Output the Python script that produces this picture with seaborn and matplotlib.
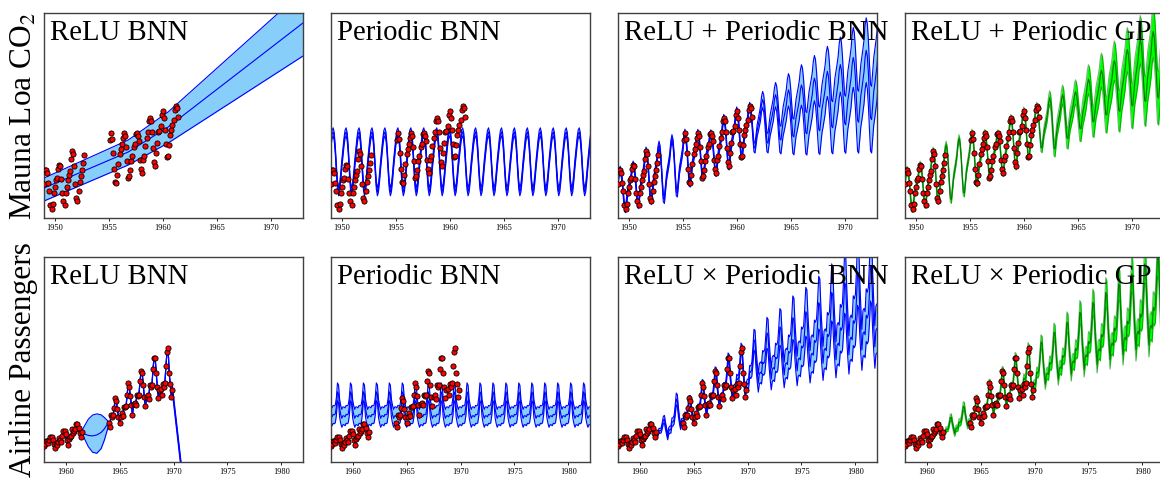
import numpy as np
import matplotlib
matplotlib.use("Agg")
import matplotlib.pyplot as plt
import seaborn as sns

sns.set_theme(style="white")
plt.rcParams["font.family"] = ["Liberation Serif", "DejaVu Serif"]
plt.rcParams["mathtext.fontset"] = "stix"
plt.rcParams["text.color"] = "black"
plt.rcParams["xtick.color"] = "black"

# ---------------------------------------------------------------- data
# Mauna Loa CO2 (ppm), monthly; first point at 1949.0 on the axis, 0.1 per month
co2_start, co2_step = 1949.0, 0.1
co2_first = [315.71, 317.45, 317.50, 317.10, 315.86, 314.93, 313.20, 312.66, 313.33, 314.67,
             315.42, 316.31, 316.50, 317.56, 318.13, 318.00, 316.39, 314.65, 313.68, 313.18, 314.66, 315.43,
             316.27, 316.81, 317.42, 318.87, 319.87, 319.43, 318.01, 315.74, 314.00, 313.68, 314.84, 316.03,
             316.73, 317.54, 318.38, 319.31]
co2_second_offset = 61          # months from the first point to the first point after the gap
co2_second = [321.22, 322.08, 321.31, 319.58, 317.61, 316.05, 315.83, 316.91, 318.20,
              319.41, 320.07, 320.74, 321.40, 322.06, 321.73, 320.27, 318.54, 316.54, 316.71, 317.53, 318.55,
              319.27, 320.28, 320.73, 321.97, 322.00, 321.71, 321.05, 318.71, 317.66, 317.14, 318.70, 319.25,
              320.46, 321.43, 322.23, 323.54, 323.91, 323.59, 322.24, 320.20, 318.48, 317.94, 319.63, 320.87,
              322.17, 322.34, 322.88, 324.25, 324.83, 323.93, 322.38, 320.76, 319.10, 319.24, 320.56, 321.80,
              322.40, 322.99, 323.73, 324.86, 325.40, 325.20, 323.98]
co2_first_month = 2             # first point is March

# Airline passengers (thousands), monthly; first point at 1958.0 on the axis, 0.1 per month
air_start, air_step = 1958.0, 0.1
air_first = [112, 118, 132, 129, 121, 135, 148, 148, 136, 119, 104, 118,
             115, 126, 141, 135, 125, 149, 170, 170, 158, 133, 114, 140,
             145, 150, 178, 163, 172, 178, 199, 199, 184, 162, 146, 166]
air_second_offset = 60
air_second = [204, 188, 235, 227, 234, 264, 302, 293, 259, 229, 203, 229,
              242, 233, 267, 269, 270, 315, 364, 347, 312, 274, 237, 278,
              284, 277, 317, 313, 318, 374, 413, 405, 355, 306, 271, 306,
              315, 301, 356, 348, 355, 422, 465, 467, 404, 347, 305, 336,
              340, 318, 362, 348, 363, 435, 491, 505, 404, 359, 310, 337]

# axes
co2_xlim, co2_ylim = (1949, 1973), (311.55, 336.9)
air_xlim, air_ylim = (1958, 1982), (44.5, 875.0)
co2_xticks = [1950, 1955, 1960, 1965, 1970]
air_xticks = [1960, 1965, 1970, 1975, 1980]

row_labels = ["Mauna Loa CO$_2$", "Airline Passengers"]
titles = [["ReLU BNN", "Periodic BNN", "ReLU + Periodic BNN", "ReLU + Periodic GP"],
          ["ReLU BNN", "Periodic BNN", "ReLU \u00d7 Periodic BNN", "ReLU \u00d7 Periodic GP"]]

# ---------------------------------------------------------------- predictions
# CO2, ReLU BNN: piecewise-linear mean and band
c1_x = [1949.0, 1956.8, 1960.5, 1973.0]
c1_mean = [315.26, 319.71, 322.80, 335.67]
c1_hi = [316.49, 321.19, 324.66, 339.62]
c1_lo = [313.65, 318.10, 320.82, 331.58]

# CO2, Periodic BNN: one repeating year (Jan..Dec), band half width
c2_season = [318.2, 319.6, 320.9, 321.9, 322.2, 321.6, 319.9, 317.6, 315.6, 314.8, 315.3, 316.6]
c2_half = 0.5

# CO2 seasonal shape (Jan..Dec): 0 = yearly low, 1 = yearly high
co2_shape = [0.48, 0.59, 0.71, 0.91, 1.0, 0.91, 0.67, 0.33, 0.03, 0.0, 0.19, 0.38]

# CO2, ReLU + Periodic BNN: yearly highs / lows of the mean and band half width
c3_peak_x = [1949.2, 1950.4, 1951.6, 1952.8, 1954.0, 1955.2, 1956.4, 1957.6, 1958.8, 1960.0, 1961.2,
             1962.4, 1966.0, 1970.0, 1973.2]
c3_peak = [317.5, 318.13, 319.87, 320.6, 321.4, 322.08, 322.06, 322.0, 323.91, 324.83, 325.4,
           326.2, 328.0, 330.8, 333.2]
c3_low_x = [1949.7, 1950.9, 1952.1, 1953.3, 1954.5, 1955.7, 1956.8, 1958.1, 1959.3, 1960.4, 1961.7,
            1962.9, 1966.0, 1970.0, 1973.2]
c3_low = [312.66, 313.18, 313.68, 313.8, 314.6, 315.83, 316.54, 317.14, 317.94, 319.1, 320.2,
          320.8, 321.8, 323.05, 323.9]
c3_half_x = [1948.8, 1961.4, 1962.4, 1966.0, 1970.0, 1973.2]
c3_half = [0.45, 0.45, 1.0, 2.5, 3.5, 4.3]

# CO2, ReLU + Periodic GP
c4_peak_x = c3_peak_x[:11] + [1962.5, 1965.0, 1966.2, 1967.3, 1968.5, 1969.8, 1971.0, 1973.2]
c4_peak = c3_peak[:11] + [326.5, 327.2, 329.0, 329.9, 331.1, 332.6, 333.8, 335.6]
c4_low_x = c3_low_x[:11] + [1962.8, 1964.2, 1965.5, 1966.6, 1968.0, 1969.2, 1970.4, 1971.7, 1973.2]
c4_low = c3_low[:11] + [320.0, 321.5, 322.8, 323.5, 324.5, 324.8, 325.6, 326.1, 326.6]
c4_half_x = [1948.8, 1961.4, 1962.5, 1966.0, 1969.0, 1973.2]
c4_half = [0.45, 0.45, 0.9, 1.8, 2.6, 3.5]

# Airline, ReLU BNN: mean follows data, bulge in the gap, steep fall after the data
a1_gap_x = [1961.8, 1962.1, 1962.5, 1962.9, 1963.3, 1963.6, 1963.9]
a1_gap_mean = [158, 153, 151, 155, 165, 180, 200]
a1_gap_hi = [195, 218, 235, 240, 236, 225, 212]
a1_gap_lo = [135, 108, 85, 81, 100, 135, 180]
a1_tail_x = [1971.6]
a1_tail_mean = [-311]
a1_half = 5
a1_tail_half = 14

# Airline, Periodic BNN: one repeating year (Jan..Dec)
a2_season = [232, 228, 238, 236, 240, 270, 329, 320, 262, 238, 222, 232]
a2_half = 36

# Airline seasonal shape (Jan..Dec): 0 = yearly low, 1 = yearly high
air_shape = [0.22, 0.18, 0.42, 0.38, 0.42, 0.68, 1.0, 0.95, 0.55, 0.25, 0.0, 0.2]

# Airline, ReLU x Periodic BNN: yearly highs / lows of the mean, relative band half width
a3_peak_x = [1958.6, 1959.8, 1961.0, 1962.2, 1963.4, 1964.6, 1965.8, 1967.0, 1968.2, 1969.4,
             1970.6, 1971.8, 1973.0, 1974.2, 1975.4, 1976.6, 1977.8, 1979.0, 1980.2, 1981.4, 1982.3]
a3_peak = [148, 170, 199, 215, 300, 302, 364, 413, 467, 505,
           539, 567, 591, 628, 652, 689, 730, 770, 811, 835, 850]
a3_low_x = [1959.0, 1960.2, 1961.4, 1962.6, 1963.8, 1965.0, 1966.2, 1967.4, 1968.6, 1969.8,
            1971.0, 1973.4, 1975.8, 1978.2, 1980.6, 1982.3]
a3_low = [104, 114, 146, 147, 187, 203, 237, 271, 305, 310, 364, 397, 430, 458, 498, 515]
a3_rel_x = [1958.0, 1961.5, 1962.5, 1963.5, 1964.0, 1969.9, 1971.0, 1975.0, 1982.3]
a3_rel = [0.04, 0.04, 0.08, 0.08, 0.04, 0.04, 0.10, 0.15, 0.17]

# Airline, ReLU x Periodic GP
a4_peak_x = a3_peak_x
a4_peak = [148, 170, 199, 225, 270, 302, 364, 413, 467, 505,
           530, 570, 610, 650, 690, 730, 765, 805, 845, 880, 900]
a4_low_x = a3_low_x
a4_low = [104, 114, 146, 160, 190, 203, 237, 271, 305, 310, 360, 400, 440, 478, 518, 545]
a4_rel_x = [1958.0, 1961.5, 1962.5, 1963.5, 1964.0, 1969.9, 1971.0, 1976.0, 1982.3]
a4_rel = [0.045, 0.045, 0.07, 0.07, 0.045, 0.045, 0.06, 0.08, 0.10]

# ---------------------------------------------------------------- build series
co2_k = np.arange(-2, 243)
co2_t = co2_start + co2_step * co2_k
co2_m = (co2_k + co2_first_month) % 12
air_k = np.arange(0, 243)
air_t = air_start + air_step * air_k
air_m = air_k % 12

co2_x = np.concatenate([co2_start + co2_step * np.arange(len(co2_first)),
                        co2_start + co2_step * (co2_second_offset + np.arange(len(co2_second)))])
co2_y = np.array(co2_first + co2_second, dtype=float)
air_x = np.concatenate([air_start + air_step * np.arange(len(air_first)),
                        air_start + air_step * (air_second_offset + np.arange(len(air_second)))])
air_y = np.array(air_first + air_second, dtype=float)


def seasonal_mean(t, m, px, py, lx, ly, shape):
    low = np.interp(t, lx, ly)
    high = np.interp(t, px, py)
    return low + (high - low) * np.asarray(shape)[m]


def band_abs(t, mean, hx, hy):
    h = np.interp(t, hx, hy)
    return mean - h, mean + h


def band_rel(t, mean, rx, ry):
    r = np.interp(t, rx, ry)
    return mean * (1 - r), mean * (1 + r)


series = [[None] * 4 for _ in range(2)]
series[0][0] = (np.array(c1_x), np.array(c1_mean), np.array(c1_lo), np.array(c1_hi))
m2 = np.asarray(c2_season)[co2_m]
series[0][1] = (co2_t, m2, m2 - c2_half, m2 + c2_half)
m3 = seasonal_mean(co2_t, co2_m, c3_peak_x, c3_peak, c3_low_x, c3_low, co2_shape)
series[0][2] = (co2_t, m3) + band_abs(co2_t, m3, c3_half_x, c3_half)
m4 = seasonal_mean(co2_t, co2_m, c4_peak_x, c4_peak, c4_low_x, c4_low, co2_shape)
series[0][3] = (co2_t, m4) + band_abs(co2_t, m4, c4_half_x, c4_half)

nf = len(air_first)
a1_x = np.concatenate([air_x[:nf], a1_gap_x, air_x[nf:], a1_tail_x])
a1_m = np.concatenate([air_y[:nf], a1_gap_mean, air_y[nf:], a1_tail_mean])
a1_hi = np.concatenate([air_y[:nf] + a1_half, a1_gap_hi, air_y[nf:-1] + a1_half,
                        [air_y[-1] + a1_tail_half], np.array(a1_tail_mean) + a1_tail_half])
a1_lo = np.concatenate([air_y[:nf] - a1_half, a1_gap_lo, air_y[nf:-1] - a1_half,
                        [air_y[-1] - a1_tail_half], np.array(a1_tail_mean) - a1_tail_half])
series[1][0] = (a1_x, a1_m, a1_lo, a1_hi)
n2 = np.asarray(a2_season, dtype=float)[air_m]
series[1][1] = (air_t, n2, n2 - a2_half, n2 + a2_half)
n3 = seasonal_mean(air_t, air_m, a3_peak_x, a3_peak, a3_low_x, a3_low, air_shape)
series[1][2] = (air_t, n3) + band_rel(air_t, n3, a3_rel_x, a3_rel)
n4 = seasonal_mean(air_t, air_m, a4_peak_x, a4_peak, a4_low_x, a4_low, air_shape)
series[1][3] = (air_t, n4) + band_rel(air_t, n4, a4_rel_x, a4_rel)

# ---------------------------------------------------------------- figure
W, H = 1160, 480
fig = plt.figure(figsize=(W / 100, H / 100), dpi=100)
lefts = [44, 331, 618, 905]
rows = [(13, 218), (256.5, 462.3)]
blue_fill, blue_line = "#87cefa", "#0000ff"
gp_fill, gp_line = "#00ff00", "#007a00"

for r in range(2):
    top, bot = rows[r]
    xs, ys = (co2_x, co2_y) if r == 0 else (air_x, air_y)
    for c in range(4):
        ax = fig.add_axes([lefts[c] / W, 1 - bot / H, 259 / W, (bot - top) / H])
        t, mean, lo, hi = series[r][c]
        gp = c == 3
        fill, line = (gp_fill, gp_line) if gp else (blue_fill, blue_line)
        ax.fill_between(t, lo, hi, color=fill, lw=0, zorder=1)
        for yy, a in ((lo, 0.55 if gp else 1.0), (hi, 0.55 if gp else 1.0), (mean, 1.0)):
            sns.lineplot(x=t, y=yy, ax=ax, color=line, lw=0.8, alpha=a, zorder=2, sort=False,
                         estimator=None, legend=False)
        sns.scatterplot(x=xs, y=ys, ax=ax, color="red", edgecolor="black", s=14,
                        linewidth=0.6, zorder=3, legend=False)
        ax.set_xlim(co2_xlim if r == 0 else air_xlim)
        ax.set_ylim(co2_ylim if r == 0 else air_ylim)
        ax.set_xticks(co2_xticks if r == 0 else air_xticks)
        ax.set_yticks([])
        ax.set_xlabel("")
        ax.set_ylabel("")
        ax.tick_params(axis="x", labelsize=6, length=2, width=0.6, pad=2, colors="black",
                       direction="out", bottom=True)
        for sp in ax.spines.values():
            sp.set_color("#404040")
            sp.set_linewidth(1.0)
        ax.text(0.023, 0.868, titles[r][c], transform=ax.transAxes, fontsize=20.7,
                ha="left", va="baseline", zorder=10, clip_on=False, color="black")
    fig.text(24 / W, 1 - (top + bot) / 2 / H, row_labels[r], rotation=90, fontsize=22.6,
             ha="center", va="center", color="black")

fig.savefig("out.png", dpi=100)
